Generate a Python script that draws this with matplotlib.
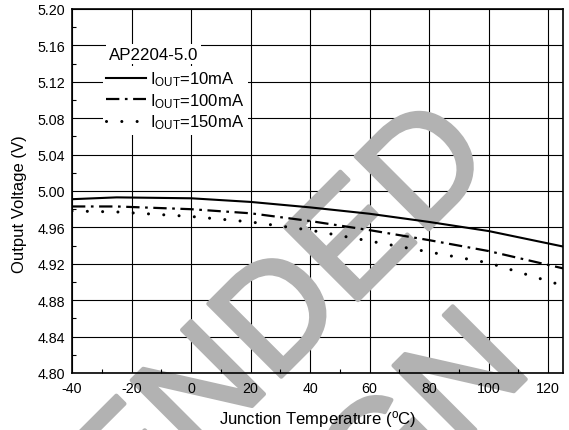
import numpy as np
import matplotlib.pyplot as plt
import matplotlib.patheffects as pe

plt.rcParams['font.family'] = ['Liberation Sans', 'DejaVu Sans']
plt.rcParams['axes.unicode_minus'] = False

# junction temperature (C)
temp = [-40, -25, 0, 20, 40, 60, 80, 100, 125]
# output voltage (V) for each load current
v_10ma = [4.991, 4.993, 4.992, 4.988, 4.982, 4.975, 4.966, 4.956, 4.939]
v_100ma = [4.983, 4.983, 4.980, 4.9755, 4.967, 4.957, 4.946, 4.934, 4.915]
v_150ma = [4.978, 4.977, 4.972, 4.966, 4.957, 4.945, 4.933, 4.921, 4.896]

labels = [r'$\mathregular{I_{OUT}}$=10mA',
          r'$\mathregular{I_{OUT}}$=100mA',
          r'$\mathregular{I_{OUT}}$=150mA']
title = 'AP2204-5.0'

xticks = np.arange(-40, 121, 20)
yticks = np.arange(4.80, 5.201, 0.04)

W, H = 569, 431
fig = plt.figure(figsize=(W / 100, H / 100), dpi=100)
ax = fig.add_axes([72 / W, 1 - 374 / H, (563 - 72) / W, (374 - 10) / H])

# grid drawn by hand so the watermark can sit between grid and curves
for x in xticks:
    ax.axvline(x, color='black', lw=0.8, zorder=0.5)
for y in yticks:
    ax.axhline(y, color='black', lw=0.8, zorder=0.5)

ax.plot(temp, v_10ma, color='black', lw=1.5, label=labels[0], zorder=3)
ax.plot(temp, v_100ma, color='black', lw=1.6, dashes=(6, 2.5, 1.2, 2.5),
        label=labels[1], zorder=3)
ax.plot(temp, v_150ma, color='black', lw=2.2, dashes=(0.01, 5),
        dash_capstyle='round', label=labels[2], zorder=3)

ax.set_xlim(-40, 125)
ax.set_ylim(4.80, 5.20)
ax.set_xticks(xticks)
ax.set_yticks(yticks)
ax.set_yticklabels(['%.2f' % v for v in yticks])
ax.set_xticks(np.arange(-30, 125, 20), minor=True)
ax.set_yticks(np.arange(4.82, 5.20, 0.04), minor=True)
ax.tick_params(which='both', direction='in', labelsize=10.3)
ax.tick_params(axis='x', pad=6)
ax.tick_params(axis='y', pad=5)
ax.tick_params(which='major', length=0)
ax.tick_params(which='minor', length=3, width=0.8)
for s in ax.spines.values():
    s.set_linewidth(1.2)

ax.set_xlabel(r'Junction Temperature ($\mathregular{^o}$C)', fontsize=12)
ax.set_ylabel('Output Voltage (V)', fontsize=12)
ax.xaxis.set_label_coords(0.5, -0.097)
ax.yaxis.set_label_coords(-0.092, 0.467)

leg = ax.legend(loc='upper left', bbox_to_anchor=(103 / W, 1 - 67 / H),
                bbox_transform=fig.transFigure, frameon=True, fancybox=False,
                edgecolor='none', facecolor='white', framealpha=1,
                fontsize=12, handlelength=2.4, handletextpad=0.25,
                labelspacing=0.18, borderpad=0.2, borderaxespad=0)
leg.set_zorder(5)
ax.text(109 / W, 1 - 55 / H, title, transform=fig.transFigure, fontsize=12.2,
        va='center', ha='left', zorder=5,
        bbox=dict(facecolor='white', edgecolor='none', pad=2))

# grey watermark
grey = '#b2b2b2'
wm = dict(transform=fig.transFigure, rotation=45, rotation_mode='anchor',
          color=grey, fontsize=108, ha='right', va='baseline',
          clip_on=False, zorder=1,
          path_effects=[pe.withStroke(linewidth=3, foreground=grey)])
ax.text(496 / W, 1 - 163 / H, 'NOT RECOMMENDED', **wm)
ax.text(534 / W, 1 - 372 / H, 'FOR NEW DESIGN', **wm)

fig.savefig('out.png', dpi=100)
